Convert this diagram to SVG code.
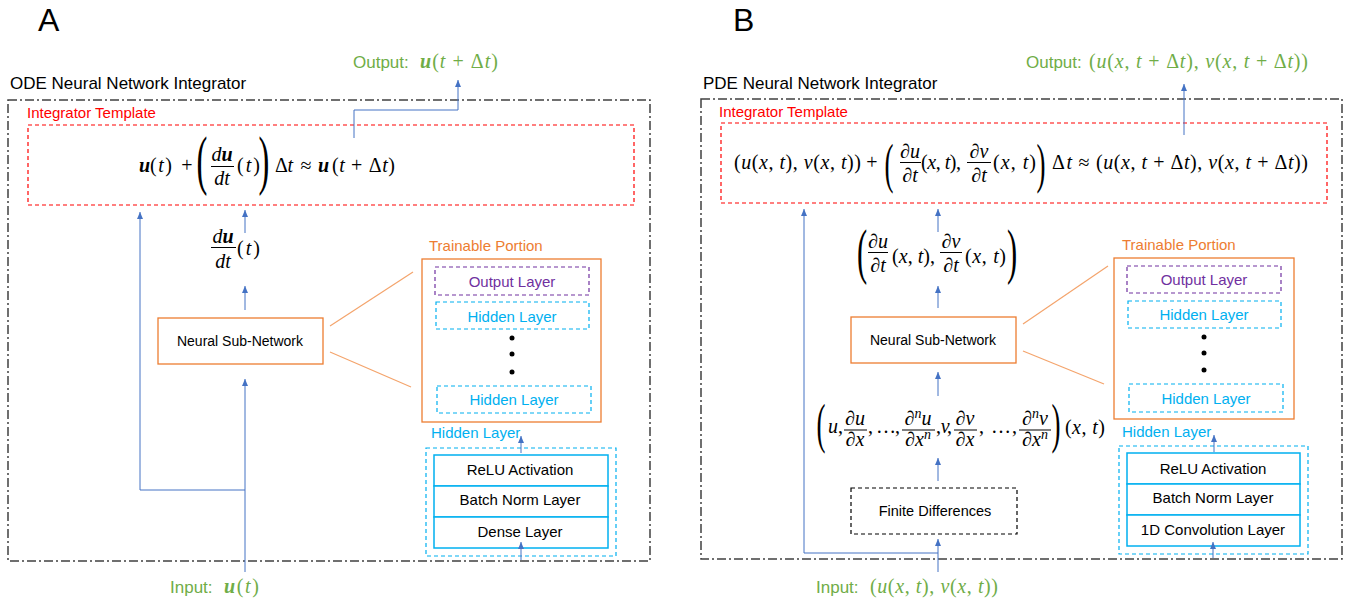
<svg xmlns="http://www.w3.org/2000/svg" width="1359" height="608" viewBox="0 0 1359 608">
<style>
.sans{font-family:"Liberation Sans",Arial,sans-serif;}
.m{font-family:"Liberation Serif","DejaVu Serif",serif;font-size:20px;fill:#000;}
.i{font-style:italic;}
.bi{font-style:italic;font-weight:bold;}
.panel{font-family:"Liberation Sans",Arial,sans-serif;font-size:32px;fill:#000;}
.title{font-family:"Liberation Sans",Arial,sans-serif;font-size:17px;fill:#000;}
.red{font-family:"Liberation Sans",Arial,sans-serif;font-size:15px;fill:#FF0000;}
.orange{font-family:"Liberation Sans",Arial,sans-serif;font-size:15px;fill:#ED7D31;}
.cyan{font-family:"Liberation Sans",Arial,sans-serif;font-size:15px;fill:#00B0F0;}
.purple{font-family:"Liberation Sans",Arial,sans-serif;font-size:15px;fill:#7030A0;}
.blk{font-family:"Liberation Sans",Arial,sans-serif;font-size:15px;fill:#000;}
.green{font-family:"Liberation Sans",Arial,sans-serif;font-size:17px;fill:#70AD47;}
.gm{font-family:"Liberation Serif","DejaVu Serif",serif;font-size:20px;fill:#70AD47;}
.outer{fill:none;stroke:#404040;stroke-width:1.5;stroke-dasharray:9 3 2 3;}
.tmpl{fill:none;stroke:#FF0000;stroke-width:1.2;stroke-dasharray:4 3;}
.nn{fill:#fff;stroke:#ED7D31;stroke-width:1.3;}
.train{fill:#fff;stroke:#ED7D31;stroke-width:1.3;}
.outl{fill:none;stroke:#7030A0;stroke-width:1.2;stroke-dasharray:4 3;}
.hidl{fill:none;stroke:#00B0F0;stroke-width:1.2;stroke-dasharray:4 3;}
.inner{fill:#fff;stroke:#00B0F0;stroke-width:1.5;}
.fd{fill:#fff;stroke:#000;stroke-width:1.2;stroke-dasharray:4 3;}
.conn{fill:none;stroke:#4472C4;stroke-width:1;}
.arr{marker-end:url(#ah);}
.zoomln{stroke:#F4A46C;stroke-width:1.2;fill:none;}
.bar{stroke:#000;stroke-width:1;}
</style>
<defs>
<marker id="ah" markerUnits="userSpaceOnUse" markerWidth="8" markerHeight="7" refX="7" refY="3" orient="auto">
<path d="M0,0 L7,3 L0,6 z" fill="#4472C4"/>
</marker>
</defs>

<!-- ================= PANEL A ================= -->
<text class="panel" x="38" y="31">A</text>
<g id="A-frame">
<text class="title" x="10" y="89">ODE Neural Network Integrator</text>
<rect class="outer" x="8" y="100" width="642" height="461"/>
</g>
<g id="A-output">
<text class="green" x="353" y="68">Output:</text>
<text class="gm" x="420" y="68" textLength="78" lengthAdjust="spacing"><tspan class="bi">u</tspan>(<tspan class="i">t</tspan> + Δ<tspan class="i">t</tspan>)</text>
</g>
<g id="A-template">
<text class="red" x="27" y="118">Integrator Template</text>
<rect class="tmpl" x="28" y="125" width="606" height="80"/>
<text class="m" x="139" y="172"><tspan class="bi">u</tspan></text>
<text class="m" x="150" y="172" textLength="22" lengthAdjust="spacing">(<tspan class="i">t</tspan>)</text>
<text class="m" x="187" y="172" text-anchor="middle">+</text>
<text class="m" text-anchor="middle" font-size="65" transform="translate(202,182) scale(0.5,1)" style="font-size:65px">(</text>
<text class="m" x="222" y="161" text-anchor="middle"><tspan class="i">d</tspan><tspan class="bi">u</tspan></text>
<line class="bar" x1="211" y1="166.5" x2="234" y2="166.5"/>
<text class="m i" x="222" y="185" text-anchor="middle">dt</text>
<text class="m" x="237" y="172" textLength="23" lengthAdjust="spacing">(<tspan class="i">t</tspan>)</text>
<text class="m" text-anchor="middle" transform="translate(264,182) scale(0.5,1)" style="font-size:65px">)</text>
<text class="m" x="275" y="172" textLength="18" lengthAdjust="spacing">Δ<tspan class="i">t</tspan></text>
<text class="m" x="306" y="172" text-anchor="middle">≈</text>
<text class="m" x="318" y="172"><tspan class="bi">u</tspan></text>
<text class="m" x="332" y="172" textLength="63" lengthAdjust="spacing">(<tspan class="i">t</tspan> + Δ<tspan class="i">t</tspan>)</text>
</g>
<g id="A-derivative">
<text class="m" x="223" y="243" text-anchor="middle"><tspan class="i">d</tspan><tspan class="bi">u</tspan></text>
<line class="bar" x1="211" y1="247.5" x2="236" y2="247.5"/>
<text class="m i" x="223" y="268" text-anchor="middle">dt</text>
<text class="m" x="237" y="255" textLength="23" lengthAdjust="spacing">(<tspan class="i">t</tspan>)</text>
</g>
<g id="A-nn">
<rect class="nn" x="158" y="318" width="165" height="46"/>
<text class="blk" x="240" y="346" text-anchor="middle" style="font-size:14px">Neural Sub-Network</text>
</g>
<g id="A-trainable">
<text class="orange" x="429" y="251">Trainable Portion</text>
<rect class="train" x="422" y="259" width="179" height="163"/>
<rect class="outl" x="435" y="267" width="154" height="28"/>
<text class="purple" x="512" y="287" text-anchor="middle">Output Layer</text>
<rect class="hidl" x="436" y="302" width="153" height="27"/>
<text class="cyan" x="512" y="322" text-anchor="middle">Hidden Layer</text>
<circle cx="512" cy="338" r="2.5" fill="#000"/>
<circle cx="512" cy="354" r="2.5" fill="#000"/>
<circle cx="512" cy="372" r="2.5" fill="#000"/>
<rect class="hidl" x="437" y="386" width="154" height="27"/>
<text class="cyan" x="514" y="405" text-anchor="middle">Hidden Layer</text>
</g>
<g id="A-hidden-detail">
<text class="cyan" x="431" y="438">Hidden Layer</text>
<rect class="hidl" x="426" y="448" width="190" height="108"/>
<rect class="inner" x="434" y="455" width="174" height="31"/>
<rect class="inner" x="434" y="486" width="174" height="31"/>
<rect class="inner" x="434" y="517" width="174" height="31"/>
<text class="blk" x="520" y="475" text-anchor="middle">ReLU Activation</text>
<text class="blk" x="520" y="505" text-anchor="middle">Batch Norm Layer</text>
<text class="blk" x="520" y="537" text-anchor="middle">Dense Layer</text>
</g>
<g id="A-input">
<text class="green" x="170" y="593">Input:</text>
<text class="gm" x="224" y="593" textLength="35" lengthAdjust="spacing"><tspan class="bi">u</tspan>(<tspan class="i">t</tspan>)</text>
</g>

<!-- ================= PANEL B ================= -->
<text class="panel" x="733" y="31">B</text>
<g id="B-frame">
<text class="title" x="703" y="89">PDE Neural Network Integrator</text>
<rect class="outer" x="701" y="99" width="641" height="460"/>
</g>
<g id="B-output">
<text class="green" x="1026" y="68">Output:</text>
<text class="gm" x="1089" y="68" textLength="219" lengthAdjust="spacing">(<tspan class="i">u</tspan>(<tspan class="i">x</tspan>, <tspan class="i">t</tspan> + Δ<tspan class="i">t</tspan>), <tspan class="i">v</tspan>(<tspan class="i">x</tspan>, <tspan class="i">t</tspan> + Δ<tspan class="i">t</tspan>))</text>
</g>
<g id="B-template">
<text class="red" x="719" y="117">Integrator Template</text>
<rect class="tmpl" x="721" y="123" width="606" height="80"/>
<text class="m" x="734" y="169" textLength="127" lengthAdjust="spacing">(<tspan class="i">u</tspan>(<tspan class="i">x</tspan>, <tspan class="i">t</tspan>), <tspan class="i">v</tspan>(<tspan class="i">x</tspan>, <tspan class="i">t</tspan>))</text>
<text class="m" x="872" y="169" text-anchor="middle">+</text>
<text class="m" text-anchor="middle" transform="translate(889,182) scale(0.5,1)" style="font-size:54px">(</text>
<text class="m" x="910" y="158" text-anchor="middle">∂<tspan class="i">u</tspan></text>
<line class="bar" x1="900" y1="162.5" x2="921" y2="162.5"/>
<text class="m" x="910" y="182" text-anchor="middle">∂<tspan class="i">t</tspan></text>
<text class="m" x="921" y="169" textLength="40" lengthAdjust="spacing">(<tspan class="i">x</tspan>, <tspan class="i">t</tspan>),</text>
<text class="m" x="979" y="158" text-anchor="middle">∂<tspan class="i">v</tspan></text>
<line class="bar" x1="967" y1="162.5" x2="991" y2="162.5"/>
<text class="m" x="979" y="182" text-anchor="middle">∂<tspan class="i">t</tspan></text>
<text class="m" x="993" y="169" textLength="43" lengthAdjust="spacing">(<tspan class="i">x</tspan>, <tspan class="i">t</tspan>)</text>
<text class="m" text-anchor="middle" transform="translate(1041,182) scale(0.5,1)" style="font-size:54px">)</text>
<text class="m" x="1052" y="169" textLength="20" lengthAdjust="spacing">Δ<tspan class="i">t</tspan></text>
<text class="m" x="1084" y="169" text-anchor="middle">≈</text>
<text class="m" x="1096" y="169" textLength="212" lengthAdjust="spacing">(<tspan class="i">u</tspan>(<tspan class="i">x</tspan>, <tspan class="i">t</tspan> + Δ<tspan class="i">t</tspan>), <tspan class="i">v</tspan>(<tspan class="i">x</tspan>, <tspan class="i">t</tspan> + Δ<tspan class="i">t</tspan>))</text>
</g>
<g id="B-time-derivative">
<text class="m" text-anchor="middle" transform="translate(862,272) scale(0.5,1)" style="font-size:61px">(</text>
<text class="m" x="878" y="248" text-anchor="middle">∂<tspan class="i">u</tspan></text>
<line class="bar" x1="868" y1="252.5" x2="888" y2="252.5"/>
<text class="m" x="878" y="272" text-anchor="middle">∂<tspan class="i">t</tspan></text>
<text class="m" x="892" y="263" textLength="43" lengthAdjust="spacing">(<tspan class="i">x</tspan>, <tspan class="i">t</tspan>),</text>
<text class="m" x="951" y="248" text-anchor="middle">∂<tspan class="i">v</tspan></text>
<line class="bar" x1="940" y1="252.5" x2="962" y2="252.5"/>
<text class="m" x="951" y="272" text-anchor="middle">∂<tspan class="i">t</tspan></text>
<text class="m" x="965" y="263" textLength="41" lengthAdjust="spacing">(<tspan class="i">x</tspan>, <tspan class="i">t</tspan>)</text>
<text class="m" text-anchor="middle" transform="translate(1012,272) scale(0.5,1)" style="font-size:61px">)</text>
</g>
<g id="B-nn">
<rect class="nn" x="851" y="317" width="165" height="46"/>
<text class="blk" x="933" y="345" text-anchor="middle" style="font-size:14px">Neural Sub-Network</text>
</g>
<g id="B-spatial-derivatives">
<text class="m" text-anchor="middle" transform="translate(821,442) scale(0.5,1)" style="font-size:54px">(</text>
<text class="m" x="828" y="433"><tspan class="i">u</tspan>,</text>
<text class="m" x="855" y="425" text-anchor="middle">∂<tspan class="i">u</tspan></text>
<line class="bar" x1="844" y1="430" x2="867" y2="430"/>
<text class="m" x="855" y="446" text-anchor="middle">∂<tspan class="i">x</tspan></text>
<text class="m" x="868" y="433" textLength="32" lengthAdjust="spacing">, …,</text>
<text class="m" x="918" y="425" text-anchor="middle">∂<tspan class="i" font-size="14" dy="-7">n</tspan><tspan class="i" dy="7">u</tspan></text>
<line class="bar" x1="902" y1="430" x2="935" y2="430"/>
<text class="m" x="918" y="446" text-anchor="middle">∂<tspan class="i">x</tspan><tspan class="i" font-size="14" dy="-7">n</tspan></text>
<text class="m" x="936" y="433" textLength="16" lengthAdjust="spacing">, <tspan class="i">v</tspan>,</text>
<text class="m" x="965" y="425" text-anchor="middle">∂<tspan class="i">v</tspan></text>
<line class="bar" x1="954" y1="430" x2="977" y2="430"/>
<text class="m" x="965" y="446" text-anchor="middle">∂<tspan class="i">x</tspan></text>
<text class="m" x="979" y="433" textLength="38" lengthAdjust="spacing">, …,</text>
<text class="m" x="1035" y="425" text-anchor="middle">∂<tspan class="i" font-size="14" dy="-7">n</tspan><tspan class="i" dy="7">v</tspan></text>
<line class="bar" x1="1019" y1="430" x2="1051" y2="430"/>
<text class="m" x="1035" y="446" text-anchor="middle">∂<tspan class="i">x</tspan><tspan class="i" font-size="14" dy="-7">n</tspan></text>
<text class="m" text-anchor="middle" transform="translate(1056,442) scale(0.5,1)" style="font-size:54px">)</text>
<text class="m" x="1065" y="434" textLength="40" lengthAdjust="spacing">(<tspan class="i">x</tspan>, <tspan class="i">t</tspan>)</text>
</g>
<g id="B-fd">
<rect class="fd" x="851" y="488" width="166" height="46"/>
<text class="blk" x="935" y="516" text-anchor="middle" style="font-size:14.5px">Finite Differences</text>
</g>
<g id="B-trainable">
<text class="orange" x="1122" y="250">Trainable Portion</text>
<rect class="train" x="1114" y="258" width="180" height="161"/>
<rect class="outl" x="1127" y="266" width="154" height="27"/>
<text class="purple" x="1204" y="285" text-anchor="middle">Output Layer</text>
<rect class="hidl" x="1128" y="301" width="153" height="27"/>
<text class="cyan" x="1204" y="320" text-anchor="middle">Hidden Layer</text>
<circle cx="1204" cy="337" r="2.5" fill="#000"/>
<circle cx="1204" cy="353" r="2.5" fill="#000"/>
<circle cx="1204" cy="370" r="2.5" fill="#000"/>
<rect class="hidl" x="1129" y="384" width="154" height="28"/>
<text class="cyan" x="1206" y="404" text-anchor="middle">Hidden Layer</text>
</g>
<g id="B-hidden-detail">
<text class="cyan" x="1122" y="437">Hidden Layer</text>
<rect class="hidl" x="1119" y="446" width="189" height="108"/>
<rect class="inner" x="1127" y="453" width="173" height="31"/>
<rect class="inner" x="1127" y="484" width="173" height="31"/>
<rect class="inner" x="1127" y="515" width="173" height="31"/>
<text class="blk" x="1213" y="474" text-anchor="middle">ReLU Activation</text>
<text class="blk" x="1213" y="503" text-anchor="middle">Batch Norm Layer</text>
<text class="blk" x="1213" y="535" text-anchor="middle">1D Convolution Layer</text>
</g>
<g id="B-input">
<text class="green" x="816" y="593">Input:</text>
<text class="gm" x="870" y="593" textLength="128" lengthAdjust="spacing">(<tspan class="i">u</tspan>(<tspan class="i">x</tspan>, <tspan class="i">t</tspan>), <tspan class="i">v</tspan>(<tspan class="i">x</tspan>, <tspan class="i">t</tspan>))</text>
</g>

<!-- ================= CONNECTORS ================= -->
<g id="connectors">
<path class="conn arr" d="M354,138 V110 H458 V80"/>
<path class="conn arr" d="M245,572 V379"/>
<path class="conn arr" d="M245,490 H140 V212"/>
<path class="conn arr" d="M245,310 V286"/>
<path class="conn arr" d="M245,233 V210"/>
<path class="conn arr" d="M521,453 V436"/>
<path class="conn arr" d="M521,560 V542"/>
<line class="zoomln" x1="330" y1="326" x2="413" y2="272"/>
<line class="zoomln" x1="330" y1="352" x2="411" y2="387"/>

<path class="conn arr" d="M1184,135 V84"/>
<path class="conn arr" d="M938,572 V539"/>
<path class="conn arr" d="M938,553 H804 V209"/>
<path class="conn arr" d="M938,481 V458"/>
<path class="conn arr" d="M938,396 V372"/>
<path class="conn arr" d="M938,308 V286"/>
<path class="conn arr" d="M938,232 V209"/>
<path class="conn arr" d="M1214,452 V435"/>
<path class="conn arr" d="M1213,558 V542"/>
<line class="zoomln" x1="1023" y1="324" x2="1108" y2="266"/>
<line class="zoomln" x1="1023" y1="351" x2="1104" y2="384"/>
</g>
</svg>
